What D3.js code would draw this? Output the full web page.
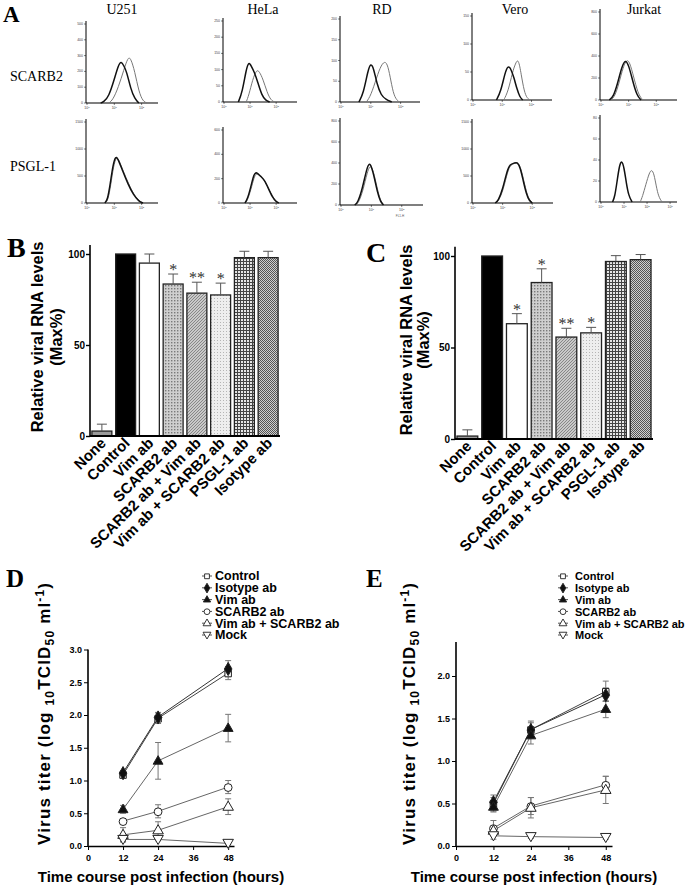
<!DOCTYPE html>
<html><head><meta charset="utf-8">
<script src="https://cdn.jsdelivr.net/npm/d3@7"></script>
<style>body{margin:0;background:#fff}svg{display:block}</style>
</head><body>
<svg id="fig" width="691" height="886"></svg>
<script>
// ---------------- DATA ----------------
// Panel A: flow cytometry histograms
const histCells = ["U251", "HeLa", "RD", "Vero", "Jurkat"];
const histRows = ["SCARB2", "PSGL-1"];
const histYMax = [[500, 250, 200, 150, 800], [1500, 600, 800, 1500, 80]];
const histYStep = [[100, 50, 50, 50, 200], [500, 200, 200, 500, 20]];
const histXMax = [[2.6, 2.8, 2.65, 2.7, 2.75], [2.6, 2.8, 2.7, 2.7, 3.3]];
const histXTicks = [[[0,1,2],[0,1,2],[0,1,2],[0,1,2],[0,1,2]], [[0,1,2],[0,1,2],[0,1,2],[0,1,2],[0,1,2,3]]];
// black (control) curves: [log decade, count]
const histBlack = [
  [
    [[0.5,0],[0.6,5],[0.8,40],[1.0,150],[1.15,240],[1.25,265],[1.35,235],[1.45,200],[1.6,90],[1.75,25],[1.9,0]],
    [[0.55,0],[0.7,30],[0.85,100],[0.95,125],[1.05,110],[1.15,95],[1.3,60],[1.45,20],[1.6,5],[1.75,0]],
    [[0.6,0],[0.75,20],[0.9,75],[1.0,95],[1.1,80],[1.2,45],[1.35,15],[1.5,7],[1.7,0]],
    [[0.8,0],[0.95,15],[1.1,50],[1.2,62],[1.3,55],[1.4,40],[1.5,20],[1.6,5],[1.7,0]],
    [[0.3,0],[0.45,30],[0.6,150],[0.75,300],[0.88,370],[1.0,320],[1.15,170],[1.3,40],[1.45,0]]
  ],
  [
    [[0.65,0],[0.75,50],[0.85,350],[0.95,700],[1.05,880],[1.15,800],[1.3,600],[1.5,350],[1.7,150],[1.9,30],[2.05,0]],
    [[0.8,0],[0.9,30],[1.05,150],[1.15,240],[1.25,255],[1.4,220],[1.55,190],[1.7,120],[1.85,50],[2.0,10],[2.1,0]],
    [[0.45,0],[0.55,20],[0.7,150],[0.85,350],[0.93,400],[1.0,370],[1.1,260],[1.2,120],[1.3,30],[1.4,0]],
    [[0.75,0],[0.85,40],[1.0,250],[1.15,600],[1.25,720],[1.4,740],[1.5,760],[1.6,650],[1.7,400],[1.8,170],[1.9,40],[2.0,0]],
    [[0.5,0],[0.6,5],[0.7,20],[0.8,35],[0.9,40],[1.0,33],[1.1,18],[1.2,6],[1.35,0]]
  ]
];
// grey (antibody) curves
const histGray = [
  [
    [[0.8,0],[0.95,20],[1.15,100],[1.35,210],[1.5,290],[1.6,285],[1.75,200],[1.9,70],[2.05,10],[2.2,0]],
    [[0.85,0],[0.95,20],[1.1,70],[1.25,100],[1.35,95],[1.5,70],[1.65,30],[1.8,5],[1.95,0]],
    [[0.85,0],[1.0,15],[1.2,60],[1.35,90],[1.5,100],[1.6,80],[1.7,40],[1.8,10],[1.95,0]],
    [[1.05,0],[1.2,15],[1.35,50],[1.45,65],[1.55,75],[1.65,45],[1.75,15],[1.85,3],[1.95,0]],
    [[0.35,0],[0.5,30],[0.65,150],[0.8,300],[0.95,380],[1.07,320],[1.22,170],[1.37,40],[1.52,0]]
  ],
  [
    [[0.67,0],[0.77,50],[0.87,330],[0.97,680],[1.07,860],[1.17,800],[1.32,600],[1.52,360],[1.72,150],[1.92,30],[2.07,0]],
    [[0.82,0],[0.92,30],[1.07,140],[1.17,225],[1.27,245],[1.42,215],[1.57,185],[1.72,115],[1.87,50],[2.02,10],[2.12,0]],
    [[0.47,0],[0.57,15],[0.72,130],[0.87,320],[0.95,370],[1.02,360],[1.12,260],[1.22,120],[1.32,30],[1.42,0]],
    [[0.77,0],[0.87,40],[1.02,240],[1.17,590],[1.27,710],[1.42,735],[1.52,750],[1.62,640],[1.72,400],[1.82,170],[1.92,40],[2.02,0]],
    [[1.7,0],[1.8,5],[1.95,17],[2.1,28],[2.2,31],[2.3,27],[2.4,15],[2.5,5],[2.65,0]]
  ]
];

// Panels B and C: relative viral RNA
const barCats = ["None", "Control", "Vim ab", "SCARB2 ab", "SCARB2 ab + Vim ab", "Vim ab + SCARB2 ab", "PSGL-1 ab", "Isotype ab"];
const barB = [2.7, 100, 95, 83.5, 78.5, 77.5, 98, 98];
const errB = [3.8, 0, 5, 5.5, 6, 6.5, 3.5, 3.5];
const sigB = ["", "", "", "*", "**", "*", "", ""];
const barC = [1.6, 100, 63, 85.5, 55.7, 58, 97, 98];
const errC = [3.4, 0, 5.5, 7.5, 4.8, 3, 3.2, 2.8];
const sigC = ["", "", "*", "*", "**", "*", "", ""];
const barTicks = [0, 50, 100];

// Panels D and E: virus titer time course
const hours = [12, 24, 48];
const hourTicks = [0, 12, 24, 36, 48];
const seriesNames = ["Control", "Isotype ab", "Vim ab", "SCARB2 ab", "Vim ab + SCARB2 ab", "Mock"];
const titerD = [[1.09, 1.95, 2.64], [1.12, 1.97, 2.71], [0.56, 1.30, 1.80], [0.38, 0.53, 0.90], [0.17, 0.24, 0.60], [0.10, 0.10, 0.04]];
const errD = [[0.04, 0.08, 0.10], [0.03, 0.07, 0.12], [0.06, 0.28, 0.21], [0.03, 0.10, 0.10], [0.11, 0.13, 0.12], [0.03, 0.02, 0.02]];
const titerE = [[0.50, 1.37, 1.82], [0.52, 1.37, 1.78], [0.46, 1.30, 1.61], [0.21, 0.47, 0.72], [0.18, 0.45, 0.66], [0.12, 0.11, 0.10]];
const errE = [[0.10, 0.10, 0.12], [0.05, 0.08, 0.08], [0.05, 0.10, 0.10], [0.09, 0.10, 0.10], [0.05, 0.12, 0.16], [0.04, 0.02, 0.02]];
const ticksD = [0, 0.5, 1, 1.5, 2, 2.5, 3];
const ticksE = [0, 0.5, 1, 1.5, 2];

// ---------------- DRAW ----------------
const svg = d3.select("#fig");
const SERIF = "'Liberation Serif','Times New Roman',serif";
const SANS = "'Liberation Sans',Arial,Helvetica,sans-serif";

// patterns
const defs = svg.append("defs");
function pat(id, w, h, bg, draw) {
  const p = defs.append("pattern").attr("id", id).attr("patternUnits", "userSpaceOnUse").attr("width", w).attr("height", h);
  p.append("rect").attr("width", w).attr("height", h).attr("fill", bg);
  draw(p);
}
pat("pCross", 3, 3, "#cfcfcf", p => { p.append("rect").attr("x",0).attr("y",0).attr("width",1.4).attr("height",1.4).attr("fill","#7a7a7a"); });
pat("pDiag", 3, 3, "#c9c9c9", p => { p.append("path").attr("d","M0,3 L3,0 M-1,1 L1,-1 M2,4 L4,2").attr("stroke","#808080").attr("stroke-width",0.9); });
pat("pDots", 3, 3, "#eeeeee", p => { p.append("rect").attr("x",1).attr("y",1).attr("width",1).attr("height",1).attr("fill","#b5b5b5"); });
pat("pGrid", 3, 3, "#e6e6e6", p => { p.append("path").attr("d","M0,0.5 H3 M0.5,0 V3").attr("stroke","#444").attr("stroke-width",1); });
pat("pCheck", 2, 2, "#cfcfcf", p => { p.append("rect").attr("width",1).attr("height",1).attr("fill","#555"); p.append("rect").attr("x",1).attr("y",1).attr("width",1).attr("height",1).attr("fill","#555"); });
const barFills = ["#9a9a9a", "#000", "#fff", "url(#pCross)", "url(#pDiag)", "url(#pDots)", "url(#pGrid)", "url(#pCheck)"];

// ---------- Panel A ----------
svg.append("text").attr("x", 3).attr("y", 22).attr("font-family", SERIF).attr("font-weight", "bold").attr("font-size", 23).text("A");
const titleX = [122, 263, 382, 515, 644];
histCells.forEach((c, i) => svg.append("text").attr("x", titleX[i]).attr("y", 14).attr("text-anchor", "middle")
  .attr("font-family", SERIF).attr("font-size", 14).text(c));
const rowLabelY = [81, 171];
histRows.forEach((r, i) => svg.append("text").attr("x", 10).attr("y", rowLabelY[i])
  .attr("font-family", SERIF).attr("font-size", 14).text(r));

const frames = [
  [[87, 158, 24, 103], [224, 297, 21, 102], [341, 420, 19, 102], [473, 552, 16, 100], [601, 677, 12, 100]],
  [[87, 158, 122, 203], [224, 297, 130, 203], [341, 423, 121, 205], [473, 553, 122, 203], [601, 677, 118, 202]]
];
frames.forEach((row, ri) => row.forEach((f, ci) => {
  const [x0, x1, yt, yb] = f;
  const xs = d3.scaleLinear().domain([0, histXMax[ri][ci]]).range([x0, x1]);
  const ys = d3.scaleLinear().domain([0, histYMax[ri][ci]]).range([yb, yt]);
  const g = svg.append("g");
  g.append("line").attr("x1", x0 - 1).attr("x2", x0 - 1).attr("y1", yt - 3).attr("y2", yb).attr("stroke", "#000").attr("stroke-width", 1);
  g.append("line").attr("x1", x0 - 1).attr("x2", x1).attr("y1", yb).attr("y2", yb).attr("stroke", "#000").attr("stroke-width", 1.2);
  d3.range(0, histYMax[ri][ci] + 0.001, histYStep[ri][ci]).forEach(v => {
    g.append("line").attr("x1", x0 - 3).attr("x2", x0 - 1).attr("y1", ys(v)).attr("y2", ys(v)).attr("stroke", "#000").attr("stroke-width", 0.5);
    g.append("text").attr("x", x0 - 4).attr("y", ys(v) + 1).attr("text-anchor", "end").attr("font-family", SANS)
      .attr("font-size", 3.5).attr("fill", "#444").text(v);
  });
  histXTicks[ri][ci].forEach(d => {
    g.append("line").attr("x1", xs(d)).attr("x2", xs(d)).attr("y1", yb).attr("y2", yb + 2).attr("stroke", "#000").attr("stroke-width", 0.5);
    const t = g.append("text").attr("x", xs(d)).attr("y", yb + 6).attr("text-anchor", "middle").attr("font-family", SANS).attr("font-size", 3.5).attr("fill", "#444");
    t.append("tspan").text("10");
    t.append("tspan").attr("dy", -1.5).attr("font-size", 2.5).text(d);
  });
  const line = d3.line().x(d => xs(d[0])).y(d => ys(d[1])).curve(d3.curveBasis);
  g.append("path").attr("d", line(histGray[ri][ci])).attr("fill", "none").attr("stroke", "#777").attr("stroke-width", 1);
  g.append("path").attr("d", line(histBlack[ri][ci])).attr("fill", "none").attr("stroke", "#111").attr("stroke-width", 1.5);
  if (ri === 1 && ci === 2) {
    g.append("text").attr("x", 400).attr("y", 217).attr("text-anchor", "middle").attr("font-family", SANS).attr("font-size", 3).attr("fill", "#555").text("FL1-H");
  }
}));

// ---------- Panels B and C ----------
function barPanel(opt) {
  const { letterX, letterY, letter, axX, axEnd, y0, y100, vals, errs, sigs, labX1, labX2, labMid } = opt;
  const g = svg.append("g");
  g.append("text").attr("x", letterX).attr("y", letterY).attr("font-family", SERIF).attr("font-weight", "bold").attr("font-size", 28).text(letter);
  const y = d3.scaleLinear().domain([0, 100]).range([y0, y100]);
  const x = d3.scaleBand().domain(barCats).range([axX, axEnd]).paddingInner(0.16).paddingOuter(0.08);
  g.selectAll("rect.bar").data(barCats).enter().append("rect")
    .attr("x", d => x(d)).attr("width", x.bandwidth())
    .attr("y", (d, i) => y(vals[i])).attr("height", (d, i) => y(0) - y(vals[i]))
    .attr("fill", (d, i) => barFills[i]).attr("stroke", "#222").attr("stroke-width", 1.3);
  barCats.forEach((c, i) => {
    if (errs[i] <= 0) return;
    const cx = x(c) + x.bandwidth() / 2, top = y(vals[i] + errs[i]);
    g.append("line").attr("x1", cx).attr("x2", cx).attr("y1", y(vals[i])).attr("y2", top).attr("stroke", "#555").attr("stroke-width", 1);
    g.append("line").attr("x1", cx - 5).attr("x2", cx + 5).attr("y1", top).attr("y2", top).attr("stroke", "#555").attr("stroke-width", 1);
    if (sigs[i]) g.append("text").attr("x", cx).attr("y", top + 1).attr("text-anchor", "middle").attr("font-family", SERIF)
      .attr("font-size", 16).attr("fill", "#333").text(sigs[i]);
  });
  const ya = d3.axisLeft(y).tickValues(barTicks).tickSize(4).tickFormat(d3.format("d"));
  const ag = g.append("g").attr("transform", `translate(${axX},0)`).call(ya);
  ag.select(".domain").attr("d", `M0,${y(105)}V${y(0)}`).attr("stroke-width", 1.6);
  ag.selectAll(".tick line").attr("stroke-width", 1.4);
  ag.selectAll("text").attr("font-family", SANS).attr("font-weight", "bold").attr("font-size", 10).attr("dx", 2);
  g.append("line").attr("x1", axX).attr("x2", axEnd).attr("y1", y(0)).attr("y2", y(0)).attr("stroke", "#000").attr("stroke-width", 1.8);
  barCats.forEach(c => {
    const cx = x(c) + x.bandwidth() / 2;
    g.append("text").attr("transform", `translate(${cx + 5},${y(0) + 8}) rotate(-45)`).attr("text-anchor", "end")
      .attr("font-family", SANS).attr("font-weight", "bold").attr("font-size", 15).text(c);
  });
  g.append("text").attr("transform", `translate(${labX1},${labMid}) rotate(-90)`).attr("text-anchor", "middle")
    .attr("font-family", SANS).attr("font-weight", "bold").attr("font-size", 16.4).text("Relative viral RNA levels");
  g.append("text").attr("transform", `translate(${labX2},${labMid}) rotate(-90)`).attr("text-anchor", "middle")
    .attr("font-family", SANS).attr("font-weight", "bold").attr("font-size", 16.4).text("(Max%)");
}
barPanel({ letter: "B", letterX: 7, letterY: 257, axX: 90, axEnd: 280, y0: 436, y100: 254, vals: barB, errs: errB, sigs: sigB, labX1: 43, labX2: 62, labMid: 337 });
barPanel({ letter: "C", letterX: 366, letterY: 262, axX: 455, axEnd: 653, y0: 439, y100: 256, vals: barC, errs: errC, sigs: sigC, labX1: 412, labX2: 429, labMid: 340 });

// ---------- Panels D and E ----------
const symTypes = [d3.symbolSquare, d3.symbolDiamond, d3.symbolTriangle, d3.symbolCircle, d3.symbolTriangle, d3.symbolTriangle];
const symFilled = [false, true, true, false, false, false];
const symRot = [0, 0, 0, 0, 0, 180];
const symSize = [42, 50, 42, 48, 48, 48];
const lineCols = ["#444", "#333", "#666", "#666", "#666", "#666"];

function linePanel(opt) {
  const { letter, letterX, axX, axEnd, y0, yPerUnit, yTop, ticks, data, errs, legX, legDx, legFont, ylabX, xlabX } = opt;
  const g = svg.append("g");
  g.append("text").attr("x", letterX).attr("y", 587).attr("font-family", SERIF).attr("font-weight", "bold").attr("font-size", 25).text(letter);
  const x = d3.scaleLinear().domain([0, 50]).range([axX, axEnd]);
  const y = d3.scaleLinear().domain([0, 1]).range([y0, y0 - yPerUnit]);
  const xa = g.append("g").attr("transform", `translate(0,${y0})`).call(d3.axisBottom(x).tickValues(hourTicks).tickSize(4).tickSizeOuter(0));
  xa.select(".domain").attr("stroke-width", 1.6);
  xa.selectAll("text").attr("font-family", SANS).attr("font-weight", "bold").attr("font-size", 9).attr("dy", "0.9em");
  const ya = g.append("g").attr("transform", `translate(${axX},0)`).call(d3.axisLeft(y).tickValues(ticks).tickSize(4).tickFormat(d3.format(".1f")));
  ya.select(".domain").attr("d", `M0,${y(yTop)}V${y0}`).attr("stroke-width", 1.6);
  ya.selectAll("text").attr("font-family", SANS).attr("font-weight", "bold").attr("font-size", 9).attr("dx", 1);
  const ln = d3.line().x((d, i) => x(hours[i])).y(d => y(d));
  data.forEach((s, si) => {
    g.append("path").attr("d", ln(s)).attr("fill", "none").attr("stroke", lineCols[si]).attr("stroke-width", 1);
    s.forEach((v, i) => {
      const cx = x(hours[i]), e = errs[si][i];
      g.append("path").attr("d", `M${cx},${y(v - e)}V${y(v + e)}M${cx - 3},${y(v + e)}H${cx + 3}M${cx - 3},${y(v - e)}H${cx + 3}`)
        .attr("stroke", "#777").attr("stroke-width", 1).attr("fill", "none");
    });
  });
  data.forEach((s, si) => {
    s.forEach((v, i) => {
      g.append("path").attr("d", d3.symbol().type(symTypes[si]).size(symSize[si])())
        .attr("transform", `translate(${x(hours[i])},${y(v) + (symRot[si] ? -1 : 0.5)}) rotate(${symRot[si]})`)
        .attr("fill", symFilled[si] ? "#111" : "#fff").attr("stroke", "#222").attr("stroke-width", 1);
    });
  });
  // legend
  seriesNames.forEach((n, i) => {
    const ly = 576 + i * 11.8;
    g.append("line").attr("x1", legX - 5).attr("x2", legX + 5).attr("y1", ly).attr("y2", ly).attr("stroke", "#555").attr("stroke-width", 1);
    g.append("path").attr("d", d3.symbol().type(symTypes[i]).size(symSize[i] * 0.55)())
      .attr("transform", `translate(${legX},${ly + (symRot[i] ? -0.5 : 0.3)}) rotate(${symRot[i]})`)
      .attr("fill", symFilled[i] ? "#111" : "#fff").attr("stroke", "#222").attr("stroke-width", 0.9);
    g.append("text").attr("x", legX + legDx).attr("y", ly + 4.3).attr("font-family", SANS).attr("font-weight", "bold").attr("font-size", legFont).text(n);
  });
  // titles
  g.append("text").attr("x", xlabX).attr("y", 882).attr("text-anchor", "middle").attr("font-family", SANS)
    .attr("font-weight", "bold").attr("font-size", 15).text("Time course post infection (hours)");
  const yt = g.append("text").attr("transform", `translate(${ylabX},714) rotate(-90)`).attr("text-anchor", "middle")
    .attr("font-family", SANS).attr("font-weight", "bold").attr("font-size", 17)
    .attr("textLength", 262).attr("lengthAdjust", "spacing");
  yt.append("tspan").text("Virus titer (log ");
  yt.append("tspan").attr("font-size", 12).attr("dy", 4).text("10");
  yt.append("tspan").attr("dy", -4).text("TCID");
  yt.append("tspan").attr("font-size", 12).attr("dy", 4).text("50");
  yt.append("tspan").attr("dy", -4).text(" ml");
  yt.append("tspan").attr("font-size", 12).attr("dy", -6).text("-1");
  yt.append("tspan").attr("dy", 6).text(")");
}
linePanel({ letter: "D", letterX: 6, axX: 88, axEnd: 234, y0: 846, yPerUnit: 65.5, yTop: 3.0, ticks: ticksD, data: titerD, errs: errD, legX: 207, legDx: 8, legFont: 12.5, ylabX: 50, xlabX: 161 });
linePanel({ letter: "E", letterX: 366, axX: 456, axEnd: 612, y0: 846, yPerUnit: 85, yTop: 2.4, ticks: ticksE, data: titerE, errs: errE, legX: 563, legDx: 12, legFont: 11, ylabX: 415, xlabX: 534 });
</script>
</body></html>
